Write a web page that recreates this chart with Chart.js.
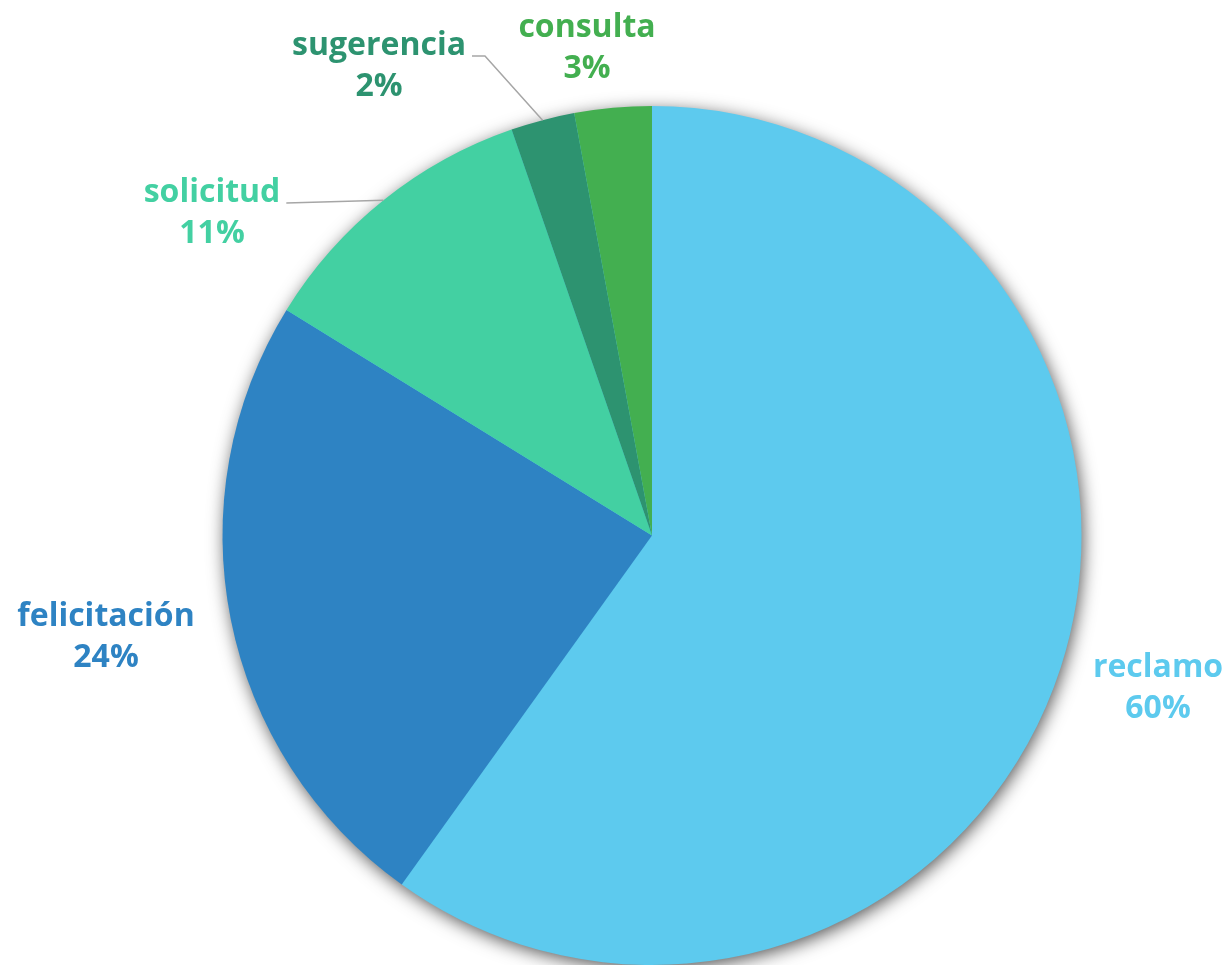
<!DOCTYPE html>
<html>
<head>
<meta charset="utf-8">
<script src="https://cdn.jsdelivr.net/npm/chart.js@4"></script>
<style>
  html, body { margin: 0; padding: 0; background: #fff; }
  #wrap { width: 1229px; height: 965px; }
</style>
</head>
<body>
<div id="wrap"><canvas id="piechart"></canvas></div>
<script>
// data (share of each type, %)
const tipos = ['reclamo', 'felicitación', 'solicitud', 'sugerencia', 'consulta'];
const valores = [59.9, 23.9, 10.9, 2.4, 2.9];
const colores = ['#5DCAEE', '#2E83C3', '#43D0A2', '#2D9370', '#43AF50'];

// where each label sits (center x, first baseline) and whether it gets a leader line
const etiquetas = [
    { x: 1158, y: 677, linea: false },
    { x: 106, y: 626, linea: false },
    { x: 212, y: 202, linea: true },
    { x: 379, y: 55, linea: true },
    { x: 587, y: 37, linea: false }
];
const fuente = 'bold 32px "Open Sans"';

const sombra = {
    id: 'sombra',
    beforeDatasetsDraw(chart) {
        const arc = chart.getDatasetMeta(0).data[0];
        if (!arc) return;
        const ctx = chart.ctx;
        ctx.save();
        ctx.shadowColor = 'rgba(0,0,0,0.7)';
        ctx.shadowBlur = 18;
        ctx.shadowOffsetX = 2;
        ctx.shadowOffsetY = 4;
        ctx.fillStyle = '#5DCAEE';
        ctx.beginPath();
        ctx.arc(arc.x, arc.y, arc.outerRadius - 1, 0, Math.PI * 2);
        ctx.fill();
        ctx.restore();
    }
};

const rotulos = {
    id: 'rotulos',
    afterDatasetsDraw(chart) {
        const ctx = chart.ctx;
        const meta = chart.getDatasetMeta(0);
        const total = valores.reduce((a, b) => a + b, 0);
        ctx.save();
        ctx.font = fuente;
        meta.data.forEach(function (arc, i) {
            const e = etiquetas[i];
            if (e.linea) {
                const mid = (arc.startAngle + arc.endAngle) / 2;
                const px = arc.x + Math.cos(mid) * arc.outerRadius;
                const py = arc.y + Math.sin(mid) * arc.outerRadius;
                const tw = ctx.measureText(tipos[i]).width;
                const x0 = e.x + tw / 2 + 6;
                const yl = e.y + 1;
                ctx.strokeStyle = '#A6A6A6';
                ctx.lineWidth = 1.5;
                ctx.beginPath();
                ctx.moveTo(x0, yl);
                if (i === 3) {
                    ctx.lineTo(x0 + 13, yl);
                }
                ctx.lineTo(px, py);
                ctx.stroke();
            }
            ctx.fillStyle = colores[i];
            ctx.textAlign = 'center';
            ctx.textBaseline = 'alphabetic';
            ctx.fillText(tipos[i], e.x, e.y);
            ctx.fillText(Math.round(valores[i] / total * 100) + '%', e.x, e.y + 41);
        });
        ctx.restore();
    }
};

new Chart(document.getElementById('piechart'), {
    type: 'pie',
    data: {
        labels: tipos,
        datasets: [{
            data: valores,
            backgroundColor: colores,
            borderWidth: 0,
            hoverOffset: 0
        }]
    },
    options: {
        responsive: true,
        maintainAspectRatio: false,
        animation: false,
        layout: { padding: { left: 222, right: 147, top: 106, bottom: 0 } },
        plugins: {
            legend: { display: false },
            tooltip: { enabled: false }
        }
    },
    plugins: [sombra, rotulos]
});
</script>
</body>
</html>
